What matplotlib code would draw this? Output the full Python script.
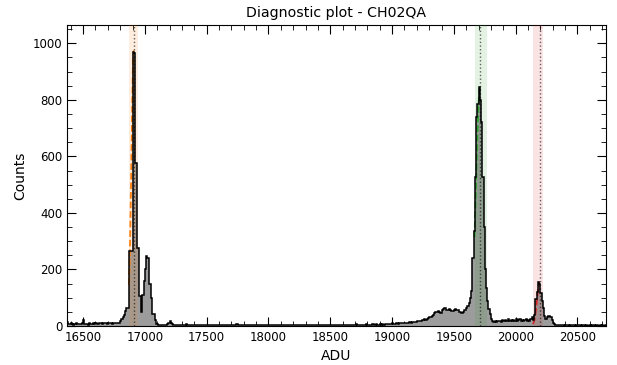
import numpy as np
import matplotlib
matplotlib.use("Agg")
import matplotlib.pyplot as plt

# histogram: 10 ADU bins starting at 16370
bin_start = 16370
bin_width = 10
counts = [
    14, 8, 6, 9, 7, 5, 8, 10, 6, 7,
    8, 6, 9, 20, 7, 6, 8, 5, 9, 7,
    6, 9, 8, 10, 7, 8, 11, 9, 7, 10,
    9, 11, 8, 10, 9, 12, 8, 10, 11, 9,
    10, 9, 12, 18, 25, 30, 38, 52, 65, 65,
    266, 266, 266, 970, 965, 575, 575, 277, 106, 106,
    50, 110, 160, 200, 248, 240, 150, 150, 100, 42,
    42, 20, 8, 6, 4, 5, 3, 4, 5, 3,
    4, 6, 10, 16, 12, 6, 4, 3, 5, 3,
    3, 4, 2, 5, 3, 4, 6, 3, 2, 4,
    5, 3, 4, 2, 3, 5, 4, 3, 4, 2,
    3, 5, 4, 3, 2, 4, 3, 5, 3, 4,
    2, 4, 3, 5, 4, 3, 2, 4, 3, 5,
    4, 3, 5, 2, 4, 3, 4, 6, 3, 2,
    3, 4, 2, 4, 5, 3, 4, 3, 2, 4,
    5, 3, 4, 3, 2, 4, 5, 3, 4, 3,
    4, 2, 3, 5, 4, 3, 2, 4, 5, 3,
    3, 4, 5, 3, 4, 2, 3, 4, 3, 5,
    4, 3, 2, 4, 3, 5, 4, 3, 4, 2,
    3, 5, 4, 3, 4, 3, 2, 5, 4, 3,
    4, 3, 5, 4, 2, 4, 3, 4, 5, 3,
    3, 4, 3, 5, 4, 3, 4, 2, 3, 4,
    5, 4, 3, 4, 3, 5, 4, 3, 4, 5,
    4, 5, 3, 4, 6, 4, 3, 5, 4, 4,
    5, 4, 6, 4, 5, 3, 5, 6, 4, 5,
    6, 5, 4, 6, 5, 7, 5, 6, 8, 6,
    7, 8, 6, 9, 8, 7, 9, 10, 8, 9,
    10, 9, 11, 10, 12, 10, 11, 13, 12, 14,
    13, 15, 14, 16, 18, 17, 19, 20, 22, 24,
    22, 25, 28, 30, 32, 36, 40, 45, 50, 48,
    52, 50, 47, 55, 60, 65, 62, 58, 55, 60,
    56, 54, 53, 56, 60, 58, 55, 50, 48, 47,
    48, 55, 58, 62, 71, 80, 100, 124, 242, 337,
    526, 739, 787, 845, 800, 720, 526, 350, 200, 136,
    89, 60, 42, 25, 18, 15, 17, 14, 18, 16,
    18, 15, 20, 17, 22, 16, 19, 25, 18, 20,
    17, 22, 19, 24, 18, 21, 26, 19, 22, 18,
    20, 24, 19, 22, 18, 25, 30, 20, 40, 96,
    120, 157, 150, 118, 90, 65, 35, 25, 30, 35,
    35, 32, 20, 12, 8, 4, 3, 2, 3, 2,
    2, 3, 1, 2, 4, 2, 1, 3, 2, 2,
    3, 1, 2, 2, 5, 2, 1, 2, 3, 1,
    2, 1, 3, 2, 1, 2, 4, 1, 2, 2,
    1, 2, 1, 3, 1, 2,
]

# gaussian fits of the three lines (drawn on the rising side)
fit_mu = [16911, 19712, 20195]
fit_sigma = [20, 32, 22]
fit_amp = [975, 845, 155]
fit_lo = [16872, 19667, 20140]
fit_hi = [16947, 19766, 20225]
fit_colors = ["tab:orange", "tab:green", "tab:red"]

edges = bin_start + bin_width * np.arange(len(counts) + 1)

fig = plt.figure(figsize=(6.17, 3.65), dpi=100)
ax = fig.add_axes([0.1086, 0.107, 0.8734, 0.8245])

ax.stairs(counts, edges, fill=True, color="#9c9c9c", zorder=2)
ax.stairs(counts, edges, color="black", lw=1.1, zorder=4)

for mu, sig, amp, lo, hi, c in zip(fit_mu, fit_sigma, fit_amp, fit_lo, fit_hi, fit_colors):
    ax.axvspan(lo, hi, color=c, alpha=0.13, lw=0, zorder=3)
    xs = np.linspace(lo, mu, 100)
    ax.plot(xs, amp * np.exp(-0.5 * ((xs - mu) / sig) ** 2), ls="--", color=c, lw=1.3, zorder=3.5)
    ax.axvline(mu, color="black", ls=":", lw=1.0, alpha=0.6, zorder=5)

ax.set_xlim(edges[0], edges[-1])
ax.set_ylim(0, 1065)
ax.set_xticks(np.arange(16500, 20501, 500))
ax.set_yticks(np.arange(0, 1001, 200))
ax.xaxis.set_minor_locator(matplotlib.ticker.MultipleLocator(100))
ax.yaxis.set_minor_locator(matplotlib.ticker.MultipleLocator(50))
ax.tick_params(which="both", direction="in", top=True, right=True, labelsize=8.5)
ax.tick_params(which="major", length=6.5)
ax.tick_params(which="minor", length=3.5)

ax.set_title("Diagnostic plot - CH02QA", fontsize=10.2)
ax.set_xlabel("ADU", fontsize=10)
ax.set_ylabel("Counts", fontsize=10)

fig.savefig("out.png", dpi=100)
